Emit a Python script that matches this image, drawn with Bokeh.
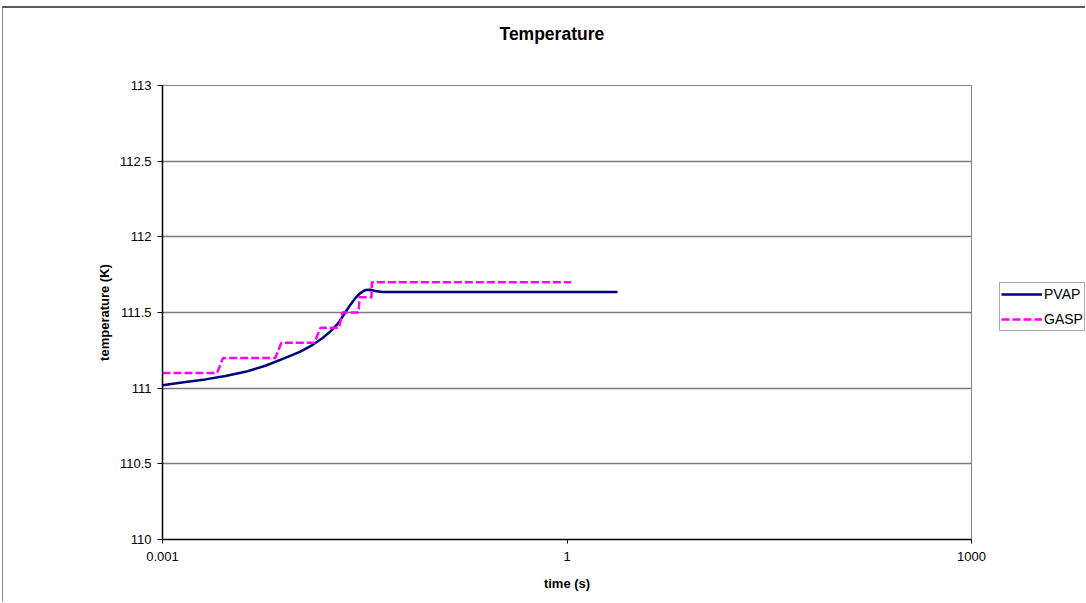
from bokeh.plotting import figure
from bokeh.layouts import row
from bokeh.models import Range1d, FixedTicker, Legend, LegendItem, Title
from bokeh.embed import file_html
from bokeh.resources import INLINE

# Vapour-pressure based temperature (smooth curve)
pvap_time = [0.001, 0.00148, 0.002083, 0.002929, 0.00412, 0.005795, 0.008149,
             0.010525, 0.012915, 0.015317, 0.017856, 0.020121, 0.022291,
             0.0247, 0.026893, 0.02929, 0.03189, 0.034735, 0.037833, 0.042627,
             0.0579, 0.2, 1.0, 2.37]
pvap_temp = [111.02, 111.04, 111.058, 111.08, 111.108, 111.148, 111.20,
             111.242, 111.285, 111.33, 111.38, 111.43, 111.49,
             111.55, 111.595, 111.628, 111.648, 111.65, 111.642, 111.636,
             111.635, 111.635, 111.635, 111.635]

# Gas-phase temperature (stepped, 0.1 K resolution)
gasp_time = [0.001, 0.00254, 0.00281, 0.00687, 0.00761, 0.01336, 0.01488,
             0.0204, 0.0216, 0.0284, 0.0290, 0.0355, 0.0357, 1.07]
gasp_temp = [111.1, 111.1, 111.2, 111.2, 111.3, 111.3, 111.4,
             111.4, 111.5, 111.5, 111.6, 111.6, 111.7, 111.7]

series_names = ["PVAP", "GASP"]
x_ticks = [0.001, 1, 1000]
x_tick_labels = ["0.001", "1", "1000"]
y_ticks = [110, 110.5, 111, 111.5, 112, 112.5, 113]
y_tick_labels = ["110", "110.5", "111", "111.5", "112", "112.5", "113"]

FONT = "Liberation Sans"
PVAP_STYLE = dict(line_color="#000080", line_width=2.5)
GASP_STYLE = dict(line_color="#ff00ff", line_width=2.5, line_dash="8 3")

p = figure(width=987, height=595, x_axis_type="log",
           x_range=Range1d(0.001, 1000), y_range=Range1d(110, 113),
           output_backend="svg", toolbar_location=None,
           min_border_left=159, min_border_right=19,
           min_border_top=77, min_border_bottom=64)
p.margin = (6, 0, 0, 2)
p.styles = {"border-top": "2px solid #5a5a5a", "border-left": "1px solid #8c8c8c"}

p.background_fill_color = "white"
p.border_fill_color = "white"
p.outline_line_color = "#808080"
p.outline_line_width = 1

# spacer panel between the frame and the chart title
p.add_layout(Title(text=" ", text_font=FONT, text_font_size="16px", standoff=22), "above")
# title is centred on the whole chart area (plot + legend column)
p.add_layout(Title(text="Temperature", align="left", offset=337,
                   vertical_align="middle",
                   text_font=FONT, text_font_size="17.5px", text_font_style="bold",
                   text_color="black", standoff=0), "above")

# axes
for ax in (p.xaxis[0], p.yaxis[0]):
    ax.axis_line_color = "black"
    ax.axis_line_width = 1.5
    ax.major_tick_line_color = "black"
    ax.major_tick_line_width = 1
    ax.major_tick_in = 0
    ax.minor_tick_line_color = None
    ax.major_label_text_font = FONT
    ax.major_label_text_font_size = "13px"
    ax.major_label_text_color = "black"
    ax.axis_label_text_font = FONT
    ax.axis_label_text_font_size = "13px"
    ax.axis_label_text_font_style = "bold"
    ax.axis_label_text_color = "black"

p.xaxis.ticker = FixedTicker(ticks=x_ticks)
p.xaxis.major_label_overrides = dict(zip(x_ticks, x_tick_labels))
p.xaxis.major_tick_out = 4
p.xaxis.major_label_standoff = 8
p.xaxis.axis_label = "time (s)"
p.xaxis.axis_label_standoff = 12

p.yaxis.ticker = FixedTicker(ticks=y_ticks)
p.yaxis.major_label_overrides = dict(zip(y_ticks, y_tick_labels))
p.yaxis.major_tick_out = 5
p.yaxis.major_label_standoff = 6
p.yaxis.axis_label = "temperature (K)"
p.yaxis.axis_label_standoff = 5

p.xgrid.visible = False
p.ygrid.grid_line_color = "#7a7a7a"
p.ygrid.grid_line_width = 1.5

p.line(pvap_time, pvap_temp, **PVAP_STYLE)
p.line(gasp_time, gasp_temp, **GASP_STYLE)

# narrow side panel that carries the legend box; its ranges keep the
# series themselves out of view so only the legend keys show
lg = figure(width=96, height=595, x_range=Range1d(0, 1), y_range=Range1d(0, 1),
            output_backend="svg", toolbar_location=None,
            x_axis_location=None, y_axis_location=None, min_border=0)
lg.margin = (6, 0, 0, 0)
lg.styles = {"border-top": "2px solid #5a5a5a"}
lg.grid.visible = False
lg.outline_line_color = None
lg.background_fill_color = "white"
lg.border_fill_color = "white"
key_pvap = lg.line(pvap_time, pvap_temp, **PVAP_STYLE)
key_gasp = lg.line(gasp_time, gasp_temp, **GASP_STYLE)

legend = Legend(items=[LegendItem(label=series_names[0], renderers=[key_pvap]),
                       LegendItem(label=series_names[1], renderers=[key_gasp])],
                location=(10, 208), orientation="vertical",
                padding=1, spacing=5, margin=0,
                glyph_width=41, glyph_height=20, label_height=20,
                label_standoff=2,
                label_text_font=FONT, label_text_font_size="14px",
                label_text_color="black",
                border_line_color="#555555", border_line_width=1,
                background_fill_color="white", background_fill_alpha=1)
lg.add_layout(legend, "center")

layout = row(p, lg, spacing=0)
open("out.html", "w").write(file_html(layout, INLINE))
